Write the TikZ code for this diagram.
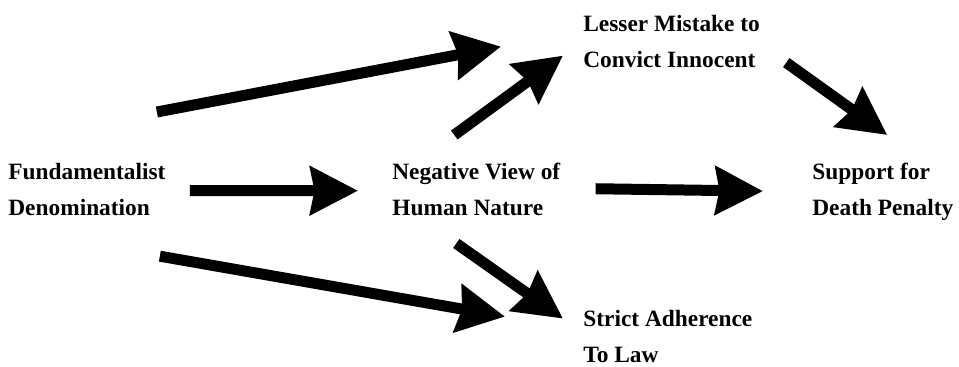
\documentclass[tikz,border=0pt]{standalone}
\usepackage{fontspec}
\setmainfont{Liberation Serif}
\usepackage{tikz}
\usetikzlibrary{arrows.meta}

\tikzset{
    lbl/.style={anchor=north west, inner sep=0pt, align=left,
        font=\fontsize{13.3}{20.5}\selectfont\bfseries},
    bigarrow/.style={line width=0.22cm,
        -{Stealth[length=0.95cm,width=0.95cm,inset=0.08cm]}}
}

\begin{document}
\begin{tikzpicture}
    \useasboundingbox (0,0) rectangle (19.18,7.32);
    % labels
    \node[lbl] (fund) at (0.16,4.06) {Fundamentalist\\Denomination};
    \node[lbl] (neg) at (7.84,4.06) {Negative View of\\Human Nature};
    \node[lbl] (lesser) at (11.66,7.02) {Lesser Mistake to\\Convict Innocent};
    \node[lbl] (support) at (16.24,4.06) {Support for\\Death Penalty};
    \node[lbl] (strict) at (11.66,1.12) {Strict Adherence\\To Law};
    % arrows
    \draw[bigarrow] ([shift={(-0.18,1.02)}]fund.north east) -- ([shift={(-1.64,-0.10)}]lesser.west);
    \draw[bigarrow] ([shift={(-0.44,0.56)}]neg.north) -- ([shift={(-0.40,-0.28)}]lesser.west);
    \draw[bigarrow] ([shift={(0.52,-0.42)}]lesser.east) -- ([shift={(0.09,0.56)}]support.north);
    \draw[bigarrow] ([shift={(0.48,-0.02)}]fund.east) -- ([shift={(-0.68,-0.02)}]neg.west);
    \draw[bigarrow] ([shift={(0.70,0.02)}]neg.east) -- ([shift={(-0.98,0.02)}]support.west);
    \draw[bigarrow] ([shift={(-0.12,-0.80)}]fund.south east) -- ([shift={(-1.56,0.40)}]strict.west);
    \draw[bigarrow] ([shift={(-0.40,-0.54)}]neg.south) -- ([shift={(-0.40,0.36)}]strict.west);
\end{tikzpicture}
\end{document}
